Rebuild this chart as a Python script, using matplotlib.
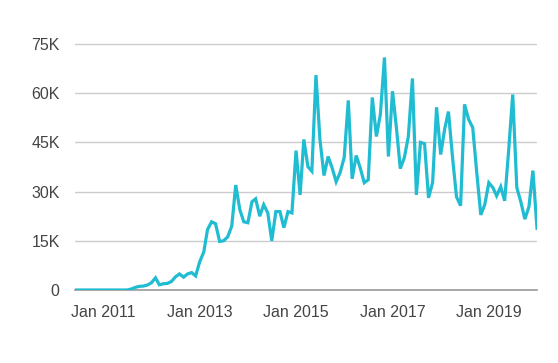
import numpy as np
import pandas as pd
import matplotlib
matplotlib.use('Agg')
import matplotlib.pyplot as plt
import matplotlib.dates as mdates

# monthly values, Jun 2010 .. Jan 2020 (thousands)
start = '2010-06-01'
values_k = [
    0, 0, 0, 0, 0, 0, 0, 0, 0, 0, 0, 0, 0, 0,
    0.3, 0.8, 1.1, 1.2, 1.5, 2.2, 3.7, 1.6, 1.9, 2.0,
    2.6, 4.0, 4.9, 3.9, 4.9, 5.3, 4.3, 8.6, 11.6, 18.4,
    20.8, 20.2, 14.8, 15.0, 16.2, 19.5, 32.0, 24.5, 20.8, 20.5,
    26.9, 27.8, 22.5, 26.0, 23.5, 15.0, 23.9, 23.9, 19.0, 23.9,
    23.5, 42.5, 29.0, 45.9, 37.6, 36.2, 65.5, 45.9, 34.9, 40.7,
    37.3, 33.0, 35.8, 40.4, 57.8, 33.9, 41.0, 37.3, 32.7, 33.6,
    58.7, 46.8, 53.5, 70.9, 40.7, 60.6, 48.9, 37.0, 40.4, 46.8,
    64.5, 29.0, 45.0, 44.6, 28.1, 32.8, 55.7, 41.3, 49.2, 54.4,
    40.4, 28.4, 25.7, 56.6, 52.0, 49.5, 36.0, 22.9, 26.0, 32.7,
    31.2, 28.7, 31.5, 27.2, 43.0, 59.6, 31.2, 26.8, 21.6, 25.4,
    36.4, 18.8,
]
y_ticks = [0, 15000, 30000, 45000, 60000, 75000]
y_labels = ['0', '15K', '30K', '45K', '60K', '75K']
x_ticks = ['2011-01-01', '2013-01-01', '2015-01-01', '2017-01-01', '2019-01-01']

dates = pd.date_range(start, periods=len(values_k), freq='MS')
values = np.array(values_k) * 1000

plt.rcParams['font.family'] = ['Liberation Sans', 'DejaVu Sans']
W, H = 558, 363
fig = plt.figure(figsize=(W / 100, H / 100), dpi=100)
top_px = 290 - 76 / 75 * 246
ax = fig.add_axes([75 / W, (H - 290) / H, (537 - 75) / W, (290 - top_px) / H])

ax.plot(dates, values, color='#1fbcd2', lw=2.3, solid_joinstyle='miter', zorder=3)

ax.set_xlim(dates[0], dates[-1])
ax.set_ylim(0, 76000)
ax.set_yticks(y_ticks)
ax.set_yticklabels(y_labels)
ax.set_xticks(pd.to_datetime(x_ticks))
ax.xaxis.set_major_formatter(mdates.DateFormatter('%b %Y'))

ax.grid(axis='y', color='#cccccc', lw=1)
ax.set_axisbelow(True)
for s in ['top', 'right', 'left']:
    ax.spines[s].set_visible(False)
ax.spines['bottom'].set_color('#999999')
ax.spines['bottom'].set_linewidth(1.2)
ax.tick_params(axis='both', length=0, labelsize=11.5, labelcolor='#444444')
ax.tick_params(axis='y', pad=11)
ax.tick_params(axis='x', pad=10.5)

fig.savefig('out.png', dpi=100)
